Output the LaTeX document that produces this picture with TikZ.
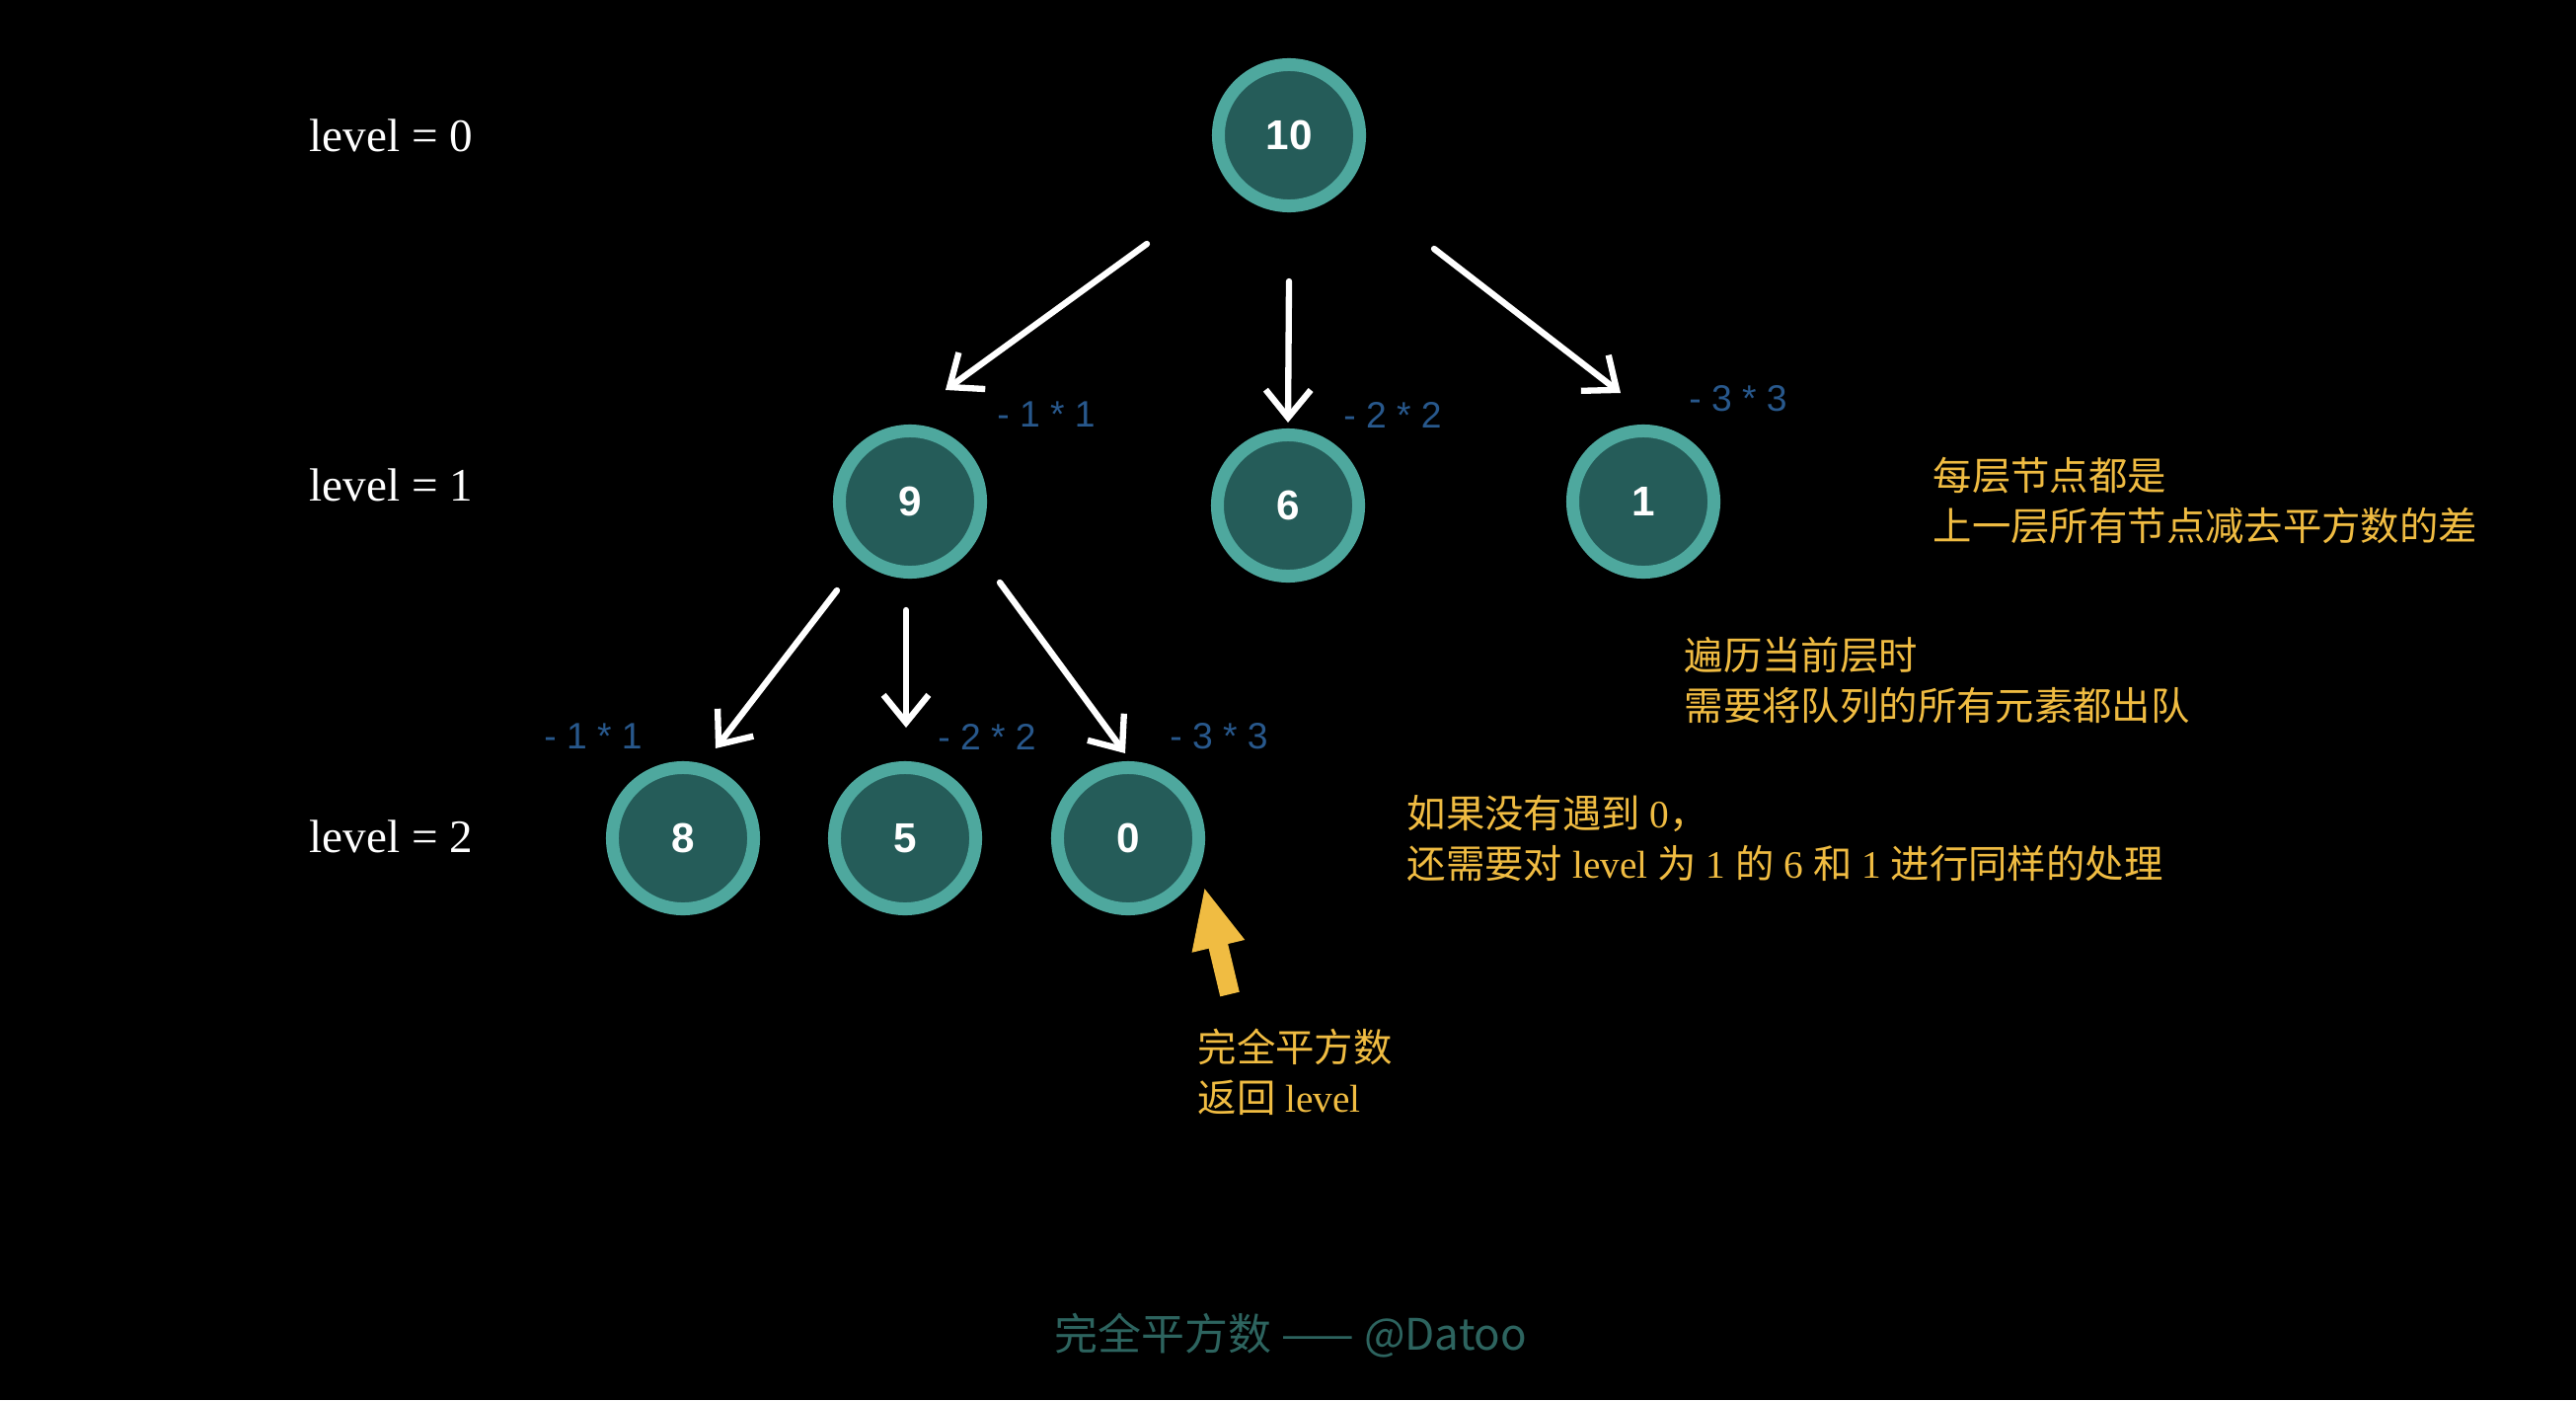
\documentclass[tikz,border=0pt]{standalone}
\usepackage{fontspec}
\setmainfont{Liberation Serif}
\newfontfamily\sansnum{Liberation Sans}
\newfontfamily\cjk{Noto Sans CJK SC}
\usetikzlibrary{arrows.meta}
\definecolor{ringteal}{RGB}{78,168,158}
\definecolor{fillteal}{RGB}{37,92,89}
\definecolor{diffblue}{RGB}{40,88,140}
\definecolor{noteyellow}{RGB}{240,188,66}
\definecolor{footteal}{RGB}{45,100,95}
\newcommand{\zh}[1]{{\cjk #1}}

\begin{document}
\begin{tikzpicture}[x=0.01cm,y=-0.01cm,
  num/.style={circle,draw=ringteal,fill=fillteal,line width=0.13cm,minimum size=1.43cm,inner sep=0pt,
    text=white,font=\sansnum\bfseries\fontsize{12}{12}\selectfont},
  chalk/.style={white,line width=1.8pt,line cap=round,-{Straight Barb[length=8pt,width=13pt]}},
  diff/.style={text=diffblue,font=\sansnum\fontsize{10.6}{10.6}\selectfont},
  lvl/.style={anchor=west,inner sep=0pt,text=white,font=\fontsize{13.4}{14}\selectfont},
  note/.style={anchor=west,inner sep=0pt,align=left,text=noteyellow,font=\fontsize{11.2}{14.5}\selectfont}]
  \fill[black] (0,0) rectangle (2610,1418);

  % levels
  \node[lvl] (lv0) at (313,137) {level = 0};
  \node[lvl] (lv1) at (313,491) {level = 1};
  \node[lvl] (lv2) at (313,847) {level = 2};

  % tree
  \node[num] (n10) at (1306,137) {10};
  \node[num] (n9) at (922,508) {9};
  \node[num] (n6) at (1305,512) {6};
  \node[num] (n1) at (1665,508) {1};
  \node[num] (n8) at (692,849) {8};
  \node[num] (n5) at (917,849) {5};
  \node[num] (n0) at (1143,849) {0};

  \draw[chalk] ([shift={(-144,110)}]n10.center) -- ([shift={(36,-113)}]n9.center);
  \draw[chalk] ([shift={(0,148)}]n10.center) -- ([shift={(0,-84)}]n6.center);
  \draw[chalk] ([shift={(147,115)}]n10.center) -- ([shift={(-23,-110)}]n1.center);
  \draw[chalk] ([shift={(-74,90)}]n9.center) -- ([shift={(33,-91)}]n8.center);
  \draw[chalk] ([shift={(-4,110)}]n9.center) -- ([shift={(1,-112)}]n5.center);
  \draw[chalk] ([shift={(91,82)}]n9.center) -- ([shift={(-3,-86)}]n0.center);

  \node[diff] (d9) at (1060,420) {- 1 * 1};
  \node[diff] (d6) at (1411,420) {- 2 * 2};
  \node[diff] (d1) at (1761,404) {- 3 * 3};
  \node[diff] (d8) at (601,746) {- 1 * 1};
  \node[diff] (d5) at (1000,746) {- 2 * 2};
  \node[diff] (d0) at (1235,746) {- 3 * 3};

  % notes
  \node[note] (note1) at (1958,507) {\zh{每层节点都是}\\\zh{上一层所有节点减去平方数的差}};
  \node[note] (note2) at (1706,689) {\zh{遍历当前层时}\\\zh{需要将队列的所有元素都出队}};
  \node[note] (note3) at (1425,849) {\zh{如果没有遇到} 0\zh{，}\\\zh{还需要对} level \zh{为} 1 \zh{的} 6 \zh{和} 1 \zh{进行同样的处理}};
  \node[note] (note4) at (1213,1086) {\zh{完全平方数}\\\zh{返回} level};

  \coordinate (tail) at (1246,1007);
  \draw[noteyellow,line width=0.2cm,-{Triangle[length=0.62cm,width=0.5cm]}] (tail) -- ([shift={(77,49)}]n0.center);

  \node[text=footteal,font=\cjk\fontsize{12.5}{12.5}\selectfont] (footer) at (1308,1353) {完全平方数 —— @Datoo};
\end{tikzpicture}
\end{document}
